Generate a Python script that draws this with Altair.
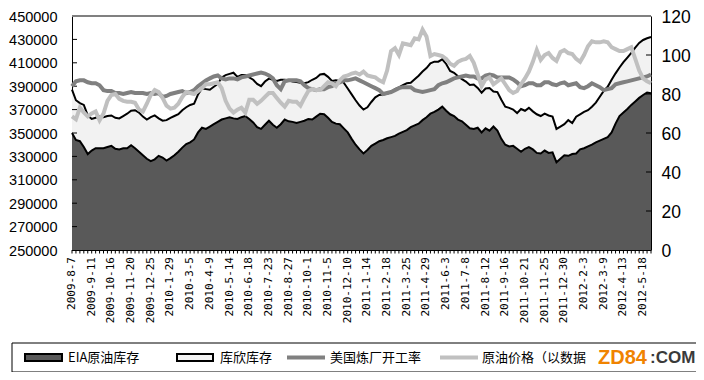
import altair as alt
import pandas as pd

# weekly categories
dates = [f"{d.year}-{d.month}-{d.day}" for d in pd.date_range("2009-08-07", periods=148, freq="7D")]

eia = [350000, 344000, 343000, 338000, 332000, 335000, 337000, 337000, 337000, 338000,
       339000, 336500, 336000, 337000, 337000, 339500, 337000, 334000, 331000, 328000,
       326000, 327500, 330500, 329000, 326500, 328500, 331000, 334000, 337500, 340500,
       342000, 344500, 350500, 354500, 353500, 355500, 357500, 359500, 361500, 362500,
       363500, 362500, 362000, 363500, 364500, 362000, 359000, 355000, 353500, 357000,
       360500, 357000, 354500, 357500, 361500, 360000, 359500, 358500, 359500, 360500,
       362000, 361500, 364000, 366500, 366000, 363000, 359500, 358000, 357500, 354000,
       350500, 345000, 340000, 336000, 332500, 335500, 339000, 341000, 343000, 344000,
       345500, 346500, 347500, 349500, 351000, 352500, 355000, 356500, 358000, 361000,
       363500, 366500, 368000, 370000, 372500, 369000, 366000, 364500, 361500, 360000,
       357000, 354000, 353500, 354500, 350500, 354000, 352000, 355500, 352000, 345000,
       340000, 338500, 339000, 336500, 334000, 336500, 338000, 336000, 333000, 332500,
       335000, 333000, 333500, 325000, 328000, 331000, 330500, 332000, 332500, 336000,
       337000, 338500, 340000, 342000, 343500, 345000, 346500, 350500, 358000, 364500,
       367500, 370500, 374000, 377000, 380000, 382500, 384500, 384000]

cushing = [37000, 34000, 32500, 36000, 33000, 27000, 26000, 27000, 26500, 26500,
           26000, 26500, 26500, 27500, 29500, 29500, 32500, 33500, 33000, 33500,
           37500, 37500, 32000, 31500, 34500, 34500, 33500, 32000, 32000, 31500,
           32000, 30500, 32500, 33500, 34000, 31500, 32000, 32500, 36000, 37000,
           37000, 39000, 36000, 36000, 35000, 35500, 36500, 37000, 36500, 37000,
           36000, 38500, 40000, 38000, 34000, 35000, 34500, 35000, 33500, 32000,
           31500, 34000, 33000, 33500, 34500, 35000, 35000, 37000, 37000, 39000,
           37500, 38000, 38000, 37500, 37500, 36500, 37500, 39500, 39500, 39000,
           38000, 38500, 40000, 39500, 40000, 40000, 38000, 39500, 41000, 41500,
           42000, 43000, 43000, 41000, 40500, 40000, 37000, 37000, 37000, 36000,
           37000, 37000, 38000, 34000, 34000, 34000, 36500, 30000, 33000, 33500,
           32500, 33000, 31000, 30500, 36500, 32500, 33500, 32500, 33000, 32000,
           31500, 32000, 30500, 28500, 27500, 26500, 30500, 26500, 31500, 30000,
           31000, 31000, 32500, 34000, 37500, 41000, 43000, 45000, 43000, 41500,
           43000, 44000, 44500, 46000, 47000, 47000, 46500, 48000]

refinery = [84, 86.5, 87, 87, 86, 85.5, 85.5, 84.5, 82, 81.5,
            81.5, 80.5, 80.5, 80, 80.5, 81, 80.5, 80.5, 80.5, 80,
            80.5, 80, 80.5, 78.5, 79, 80, 80.5, 81, 81.5, 80.5,
            81, 82, 84, 85.5, 87, 88, 89, 89.5, 88, 87.5,
            88, 88, 87.5, 88.5, 89, 89.5, 90, 90.5, 91, 90.5,
            89.5, 88, 84.5, 82.5, 86.5, 87, 87, 87, 86.5, 84.5,
            83, 82.5, 82, 82.5, 82.5, 83.5, 84, 85.5, 86, 87,
            87, 87.5, 88, 87, 86, 85, 84, 83, 82, 80,
            80.5, 81, 82, 83, 83.5, 83.5, 83.5, 82, 81.5, 81,
            81.5, 82, 82.5, 84.5, 85.5, 86, 87, 88, 88.5, 89,
            89.5, 89, 89, 88, 88, 89.5, 90, 89.5, 88.5, 88.5,
            88.5, 88.5, 87.5, 86, 84, 84.5, 85.5, 85.5, 84.5, 84.5,
            86, 86, 85, 84.5, 85.5, 86, 84.5, 85, 85.5, 83.5,
            83, 84, 85.5, 84.5, 83.5, 82, 82.5, 83, 85, 85.5,
            86, 86.5, 87, 87.5, 88, 88.5, 89, 90]

crude = [68.5, 67, 73, 70.5, 68.5, 70, 71, 66.5, 70, 76.5,
         79.5, 80, 77.5, 76.5, 76, 76, 75.5, 72, 71, 75,
         79.5, 82, 81, 78, 74, 72.5, 73, 75, 78.5, 81,
         80.5, 80, 81.5, 83, 85, 85, 85.5, 86, 83, 76.5,
         72.5, 70.5, 72, 73, 70.5, 77, 77, 75, 76.5, 78.5,
         80.5, 80.5, 78, 75.5, 73.5, 76.5, 76, 76, 74, 78,
         81.5, 82.5, 82, 82, 84, 86, 85.5, 84, 87, 89,
         89.5, 90.5, 91, 90, 91.5, 89.5, 89, 88.5, 87, 86,
         92, 102, 103.5, 100, 106, 105.5, 105, 108.5, 108, 113,
         109.5, 99.5, 100.5, 100, 99.5, 98, 95.5, 94.5, 96.5, 97.5,
         98, 99.5, 96, 90, 84, 87.5, 88.5, 85, 86.5, 88,
         85, 82, 80.5, 81.5, 85, 88, 91.5, 96.5, 102.5, 97.5,
         100, 101, 98.5, 97, 101.5, 102.5, 101, 100.5, 98, 96.5,
         100, 104.5, 107, 106.5, 106.5, 107, 106.5, 104, 103, 102,
         102, 103, 104, 98, 92, 88, 86.5, 85.5]

series_names = ["EIA原油库存", "库欣库存", "美国炼厂开工率", "原油价格（以数据"]
left_ticks = list(range(250000, 450001, 20000))
right_ticks = list(range(0, 121, 20))

n = len(dates)
df = pd.DataFrame({"idx": list(range(n)), "date": dates, "eia": eia, "cushing": cushing,
                   "refinery": refinery, "crude": crude})
df_lab = df.iloc[::5][["idx", "date"]]

TOP = 8            # chart padding above the plot
W, H = 579, 234

x_scale = alt.Scale(domain=[0, n - 1], nice=False, zero=False)
x_enc = alt.X("idx:Q", scale=x_scale, axis=None)

yl_scale = alt.Scale(domain=[250000, 450000], nice=False, zero=False)
yl_axis = alt.Axis(title=None, values=left_ticks, format="d", ticks=False, tickSize=0,
                   labelPadding=15, labelFont="Liberation Sans", labelFontSize=14.5,
                   labelOffset=1, labelColor="black", domainColor="black", grid=False)

base = alt.Chart(df)
cush_area = base.transform_calculate(top="datum.eia + datum.cushing").mark_area(
    color="#f2f2f2", clip=True).encode(
    x=x_enc, y=alt.Y("top:Q", scale=yl_scale, axis=yl_axis), y2="eia:Q")
eia_area = base.mark_area(color="#595959", clip=True).encode(
    x=x_enc, y=alt.Y("eia:Q", scale=yl_scale, axis=yl_axis), y2=alt.datum(250000))
top_line = base.transform_calculate(top="datum.eia + datum.cushing").mark_line(
    color="black", strokeWidth=2).encode(x=x_enc, y=alt.Y("top:Q", scale=yl_scale, axis=yl_axis))
eia_line = base.mark_line(color="black", strokeWidth=2).encode(
    x=x_enc, y=alt.Y("eia:Q", scale=yl_scale, axis=yl_axis))
top_rule = alt.Chart(pd.DataFrame({"v": [450000]})).mark_rule(
    color="#808080", strokeWidth=2).encode(y=alt.Y("v:Q", scale=yl_scale, axis=yl_axis))
lticks = alt.Chart(pd.DataFrame({"v": left_ticks[1:-1]})).mark_rule(
    color="black").encode(y=alt.Y("v:Q", scale=yl_scale, axis=yl_axis),
                          x=alt.value(0), x2=alt.value(5))

# category axis: domain line, weekly ticks, labels every 5 weeks
x_domain = base.mark_rule(color="black", strokeWidth=1).encode(
    x=alt.X("min(idx):Q", scale=x_scale, axis=None), x2="max(idx):Q", y=alt.value(H + 0.5))
x_ticks = base.mark_rule(color="black", strokeWidth=1).encode(
    x=x_enc, y=alt.value(H), y2=alt.value(H + 3.5))
x_labels = alt.Chart(df_lab).mark_text(
    angle=270, align="right", baseline="middle", font="DejaVu Sans Mono",
    fontSize=11, color="black").encode(x=x_enc, y=alt.value(H + 7), text="date:N")

left = alt.layer(cush_area, eia_area, top_line, eia_line, top_rule, lticks,
                 x_domain, x_ticks, x_labels)

yr_scale = alt.Scale(domain=[0, 120], nice=False)
yr_axis = alt.Axis(title=None, orient="right", values=right_ticks, ticks=False,
                   tickSize=0, labelPadding=10, labelFont="Liberation Sans",
                   labelFontSize=17.5, labelOffset=1.5, labelColor="black",
                   domainColor="black", grid=False)

ref_line = base.mark_line(color="#808080", strokeWidth=4).encode(
    x=x_enc, y=alt.Y("refinery:Q", scale=yr_scale, axis=yr_axis))
crude_line = base.mark_line(color="#c0c0c0", strokeWidth=4).encode(
    x=x_enc, y=alt.Y("crude:Q", scale=yr_scale, axis=yr_axis))
rticks = alt.Chart(pd.DataFrame({"v": right_ticks[1:-1]})).mark_rule(
    color="black").encode(y=alt.Y("v:Q", scale=yr_scale, axis=yr_axis),
                          x=alt.value(W - 5), x2=alt.value(W))

# legend (drawn below the plot); vertical positions relative to the plot top
one = pd.DataFrame({"k": [0]})
off = TOP + 8
ly = 357.5 - off
leg = []
leg.append(alt.Chart(one).mark_rect(fillOpacity=0, stroke="black", strokeWidth=1).encode(
    x=alt.value(-60), x2=alt.value(628), y=alt.value(343 - off), y2=alt.value(372 - off)))
leg.append(alt.Chart(one).mark_rect(fill="#595959", stroke="black", strokeWidth=2).encode(
    x=alt.value(-47), x2=alt.value(-10), y=alt.value(ly - 3.5), y2=alt.value(ly + 3.5)))
leg.append(alt.Chart(one).mark_rect(fill="#f2f2f2", stroke="black", strokeWidth=2).encode(
    x=alt.value(105), x2=alt.value(141), y=alt.value(ly - 3.5), y2=alt.value(ly + 3.5)))
leg.append(alt.Chart(one).mark_rule(color="#808080", strokeWidth=4).encode(
    x=alt.value(215), x2=alt.value(253), y=alt.value(ly)))
leg.append(alt.Chart(one).mark_rule(color="#c0c0c0", strokeWidth=4).encode(
    x=alt.value(368), x2=alt.value(406), y=alt.value(ly)))
for name, xpos in zip(series_names, [-4, 148, 258, 410]):
    leg.append(alt.Chart(pd.DataFrame({"t": [name]})).mark_text(
        align="left", baseline="middle", font="Noto Sans CJK SC", fontSize=13,
        color="black").encode(text="t:N", x=alt.value(xpos), y=alt.value(ly)))
# site watermark
leg.append(alt.Chart(pd.DataFrame({"t": ["ZD84"]})).mark_text(
    align="left", baseline="middle", font="Liberation Sans", fontSize=20,
    fontWeight="bold", color="#f08300").encode(text="t:N", x=alt.value(526), y=alt.value(ly + 0.5)))
leg.append(alt.Chart(pd.DataFrame({"t": [":COM"]})).mark_text(
    align="left", baseline="middle", font="Liberation Sans", fontSize=17,
    fontWeight="bold", color="#3a3a3a").encode(text="t:N", x=alt.value(578), y=alt.value(ly + 0.5)))

right = alt.layer(ref_line, crude_line, rticks, *leg)

chart = alt.layer(left, right).resolve_scale(y="independent").properties(
    width=W, height=H,
    autosize=alt.AutoSizeParams(type="none"),
    padding={"left": 64, "top": TOP, "right": 45, "bottom": 364 - TOP - H},
).configure_view(stroke=None).configure(background="white")

chart.save("out.html", embed_options={"renderer": "svg", "actions": False})
